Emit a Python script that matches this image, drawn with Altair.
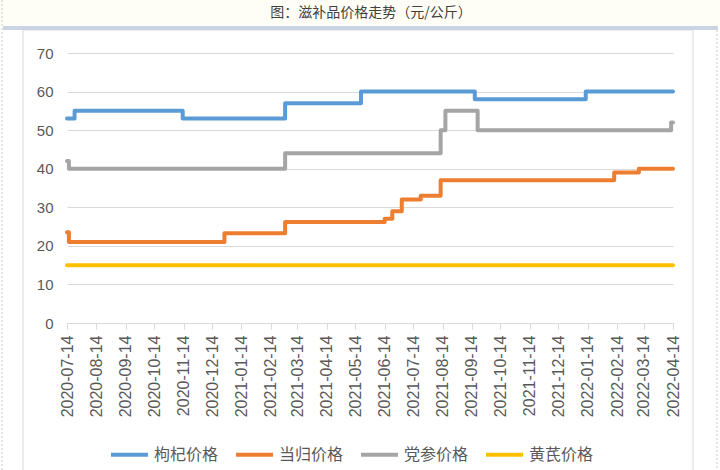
import altair as alt
import pandas as pd

# Series names (legend order) and colours
series_names = ["枸杞价格", "当归价格", "党参价格", "黄芪价格"]
series_colors = ["#5B9BD5", "#ED7D31", "#A5A5A5", "#FFC000"]

# Price change points (yuan/kg); each value holds until the next date
gouqi_dates = ["2020-07-14", "2020-07-22", "2020-11-13", "2021-03-01",
               "2021-05-20", "2021-09-17", "2022-01-12", "2022-04-14"]
gouqi_values = [53, 55, 53, 57, 60, 58, 60, 60]

danggui_dates = ["2020-07-14", "2020-07-16", "2020-12-27", "2021-03-01",
                 "2021-06-14", "2021-06-22", "2021-07-02", "2021-07-22",
                 "2021-08-12", "2022-02-11", "2022-03-09", "2022-04-14"]
danggui_values = [23.5, 21, 23.3, 26.2, 27, 29, 32, 33, 37, 39, 40, 40]

dangshen_dates = ["2020-07-14", "2020-07-16", "2021-03-01", "2021-08-12",
                  "2021-08-17", "2021-09-20", "2022-04-12", "2022-04-14"]
dangshen_values = [42, 40, 44, 50, 55, 50, 52, 52]

huangqi_dates = ["2020-07-14", "2022-04-14"]
huangqi_values = [15, 15]

# Monthly tick labels on the 14th
tick_months = [(2020, m) for m in range(7, 13)] + [(2021, m) for m in range(1, 13)] + \
              [(2022, m) for m in range(1, 5)]

title_text = "图：滋补品价格走势（元/公斤）"

rows = []
for name, dates, values in zip(
        series_names,
        [gouqi_dates, danggui_dates, dangshen_dates, huangqi_dates],
        [gouqi_values, danggui_values, dangshen_values, huangqi_values]):
    for d, v in zip(dates, values):
        rows.append({"date": d + "T00:00:00", "price": v, "series": name})
df = pd.DataFrame(rows)

W, H = 606, 270
LEFT, TOP = 67, 53

tick_values = [alt.DateTime(year=y, month=m, date=14) for y, m in tick_months]

lines = alt.Chart(df).mark_line(
    interpolate="step-after", strokeWidth=4, strokeCap="round", strokeJoin="round"
).encode(
    x=alt.X("date:T",
            scale=alt.Scale(domain=[alt.DateTime(year=2020, month=7, date=14),
                                    alt.DateTime(year=2022, month=4, date=14)],
                            nice=False),
            axis=alt.Axis(title=None, values=tick_values, format="%Y-%m-%d",
                          labelAngle=-90, labelAlign="right", labelBaseline="middle",
                          labelFont="Liberation Sans", labelFontSize=16,
                          labelColor="#595959", labelPadding=6,
                          domainColor="#D9D9D9", tickColor="#D9D9D9", tickSize=6,
                          grid=False, labelOverlap=False)),
    y=alt.Y("price:Q",
            scale=alt.Scale(domain=[0, 70], nice=False),
            axis=alt.Axis(title=None, values=list(range(0, 80, 10)),
                          labelFont="Liberation Sans", labelFontSize=15,
                          labelColor="#595959", labelPadding=14,
                          domain=False, ticks=False,
                          gridColor="#D9D9D9", gridWidth=1)),
    color=alt.Color("series:N",
                    scale=alt.Scale(domain=series_names, range=series_colors),
                    legend=alt.Legend(title=None, orient="none", direction="horizontal",
                                      legendX=42, legendY=381,
                                      symbolType="stroke", symbolStrokeWidth=4,
                                      symbolSize=1369, labelFont="Noto Sans CJK SC",
                                      labelFontSize=16, labelColor="#595959",
                                      labelOffset=4, columnPadding=9)),
    detail="series:N",
)

one_row = alt.Data(values=[{}])

# Outer chart frame and the header strip above it
frame = alt.Chart(one_row).mark_rect(filled=False, stroke="#D9D9D9", strokeWidth=1).encode(
    x=alt.value(23 - LEFT), x2=alt.value(693 - LEFT),
    y=alt.value(30 - TOP), y2=alt.value(480 - TOP))

header_bg = alt.Chart(one_row).mark_rect(fill="#FEFEF7").encode(
    x=alt.value(-LEFT), x2=alt.value(720 - LEFT),
    y=alt.value(-TOP), y2=alt.value(26 - TOP))

header_bar = alt.Chart(one_row).mark_rect(fill="#C9D5E2").encode(
    x=alt.value(3 - LEFT), x2=alt.value(718 - LEFT),
    y=alt.value(26 - TOP), y2=alt.value(30 - TOP))

left_edge = alt.Chart(one_row).mark_rule(color="#C8C8C8", strokeDash=[2, 2]).encode(
    x=alt.value(2 - LEFT), y=alt.value(-TOP), y2=alt.value(470 - TOP))

right_edge = alt.Chart(one_row).mark_rule(color="#C8C8C8", strokeDash=[2, 2]).encode(
    x=alt.value(717 - LEFT), y=alt.value(30 - TOP), y2=alt.value(470 - TOP))

title = alt.Chart(one_row).mark_text(
    font="Noto Sans CJK SC", fontSize=14, color="#404040", align="center", baseline="middle"
).encode(x=alt.value(371 - LEFT), y=alt.value(13 - TOP), text=alt.value(title_text))

chart = alt.layer(header_bg, frame, header_bar, left_edge, right_edge, title, lines).properties(
    width=W, height=H,
    padding={"left": LEFT, "top": TOP, "right": 720 - LEFT - W, "bottom": 470 - TOP - H},
    autosize="none",
    background="white",
).configure_view(stroke=None)

chart.save("out.html", embed_options={"renderer": "svg", "actions": False})
